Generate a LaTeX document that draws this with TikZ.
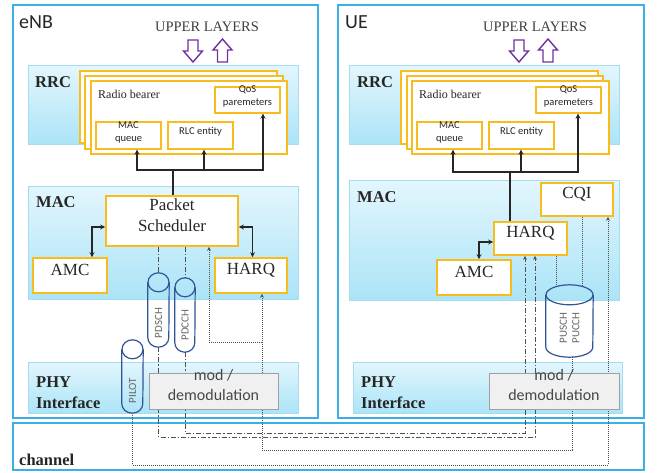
\documentclass[tikz,border=0pt]{standalone}
\usepackage{fontspec}
\setmainfont{Liberation Serif}
\newfontfamily\carl{Carlito}
\usetikzlibrary{arrows.meta,calc,fit}
\pgfdeclarelayer{back}
\pgfdeclarelayer{lines}
\pgfsetlayers{back,lines,main}
\definecolor{frameblue}{HTML}{3BB0E6}
\definecolor{bandtop}{HTML}{E3F6FD}
\definecolor{bandbot}{HTML}{ABE4F7}
\definecolor{bandline}{HTML}{A5DCEF}
\definecolor{gold}{HTML}{F8BC1C}
\definecolor{upurple}{HTML}{7030A0}
\definecolor{cylblue}{HTML}{2F5597}
\definecolor{txt}{HTML}{262626}
\definecolor{lin}{HTML}{505050}
\definecolor{modfill}{HTML}{F0F0F0}
\definecolor{modline}{HTML}{A0A0A0}
\tikzset{
  frame/.style={draw=frameblue, line width=1.8pt, fill=white, inner sep=0pt},
  band/.style={draw=bandline, line width=0.6pt, top color=bandtop, bottom color=bandbot, inner sep=0pt},
  obox/.style={draw=gold, line width=1.6pt, fill=white, inner sep=0pt, text=txt, align=center, font=\fontsize{17}{21}\selectfont},
  sbox/.style={draw=gold, line width=1.4pt, fill=white, inner sep=0pt, text=txt, align=center, font=\carl\fontsize{10.5}{13}\selectfont},
  rbox/.style={draw=gold, line width=1.3pt, fill=white, inner sep=0pt},
  modbox/.style={draw=modline, line width=1pt, fill=modfill, inner sep=0pt, text=txt!85, align=center, font=\carl\fontsize{16}{20}\selectfont},
  cylbox/.style={inner sep=0pt},
  cylline/.style={draw=cylblue, line width=1.2pt},
  cyltxt/.style={rotate=90, inner sep=0pt, text=black!60, align=center, font=\carl\fontsize{11}{12.5}\selectfont},
  ttl/.style={anchor=west, inner sep=0pt, text=txt, font=\carl\fontsize{20}{22}\selectfont},
  layerlbl/.style={anchor=west, inner sep=0pt, text=txt, font=\bfseries\fontsize{16.5}{18}\selectfont},
  rblbl/.style={anchor=west, inner sep=0pt, text=txt, font=\fontsize{12}{14}\selectfont},
  upl/.style={inner sep=0pt, text=black!75, font=\fontsize{14.5}{16}\selectfont},
  parrow/.style={draw=upurple, line width=1.4pt, line join=miter},
  dotl/.style={draw=lin, line width=0.9pt, dash pattern=on 1pt off 1pt},
  dashdotl/.style={draw=lin, line width=0.9pt, dash pattern=on 5pt off 2pt on 1.2pt off 2pt},
  gtip/.tip={Stealth[length=4pt,width=4pt]},
  blk/.style={draw=black!85, line width=1.5pt},
  btip/.tip={Stealth[length=5pt,width=5pt]},
}
\newcommand\pdown[1]{\draw[parrow] ({#1-5},40) -- ({#1+5},40) -- ({#1+5},51) -- ({#1+9.5},51) -- (#1,62) -- ({#1-9.5},51) -- ({#1-5},51) -- cycle;}
\newcommand\pup[1]{\draw[parrow] ({#1-5},62) -- ({#1+5},62) -- ({#1+5},50) -- ({#1+9.5},50) -- (#1,39) -- ({#1-9.5},50) -- ({#1-5},50) -- cycle;}
\newcommand\cylfig[3]{%
  \draw[cylline] ([yshift=-#3pt]#1.north) ellipse[x radius=#2pt, y radius=#3pt];
  \draw[cylline] ([yshift=-#3pt]#1.north west) -- ([yshift=#3pt]#1.south west)
     arc[start angle=180, end angle=360, x radius=#2pt, y radius=#3pt] -- ([yshift=-#3pt]#1.north east);}
\begin{document}
\begin{tikzpicture}[x=1pt,y=-1pt]
\useasboundingbox (0,0) rectangle (667,472);
% ---------- frames and bands
\begin{pgfonlayer}{back}
\node[frame, fit={(13,5)(318,418)}] (enbF) {};
\node[frame, fit={(338,5)(644,418)}] (ueF) {};
\node[frame, fit={(13,423)(644,470)}] (chanF) {};
\node[band, fit={(28,65)(298,144)}] (rrcE) {};
\node[band, fit={(28,186)(298,299)}] (macE) {};
\node[band, fit={(28,362)(298,413)}] (phyE) {};
\node[band, fit={(349,65)(619,144)}] (rrcU) {};
\node[band, fit={(349,180)(619,300)}] (macU) {};
\node[band, fit={(353,362)(622,413)}] (phyU) {};
\end{pgfonlayer}
% ---------- titles and layer labels
\node[ttl] (enbT) at (19,22) {eNB};
\node[ttl] (ueT) at (345,22) {UE};
\node[upl] (upE) at (207,27) {UPPER LAYERS};
\node[upl] (upU) at (535,27) {UPPER LAYERS};
\pdown{193}\pup{222.5}
\pdown{519}\pup{548}
\node[layerlbl] (rrcEL) at (35,82) {RRC};
\node[layerlbl] (macEL) at (36,202) {MAC};
\node[layerlbl] (phyEL) at (36,382) {PHY};
\node[layerlbl] (ifEL) at (36,403) {Interface};
\node[layerlbl] (rrcUL) at (357,82) {RRC};
\node[layerlbl] (macUL) at (357,197) {MAC};
\node[layerlbl] (phyUL) at (361,382) {PHY};
\node[layerlbl] (ifUL) at (361,403) {Interface};
\node[layerlbl] (chanL) at (19,460) {channel};
% ---------- eNB boxes
\node[rbox, fit={(80,71)(277,143)}] (rbE1) {};
\node[rbox, fit={(85,76)(283,149)}] (rbE2) {};
\node[rbox, fit={(91,81)(287,154)}] (rbE3) {};
\node[rblbl] (rbEt) at (98,94) {Radio bearer};
\node[sbox, fit={(215,87)(280,113)}] (qosE) {QoS\\paremeters};
\node[sbox, fit={(96,122)(161,149)}] (macqE) {MAC\\queue};
\node[sbox, fit={(168,122)(233,149)}] (rlcE) {RLC entity};
\node[obox, fit={(106,196)(238,246)}] (schedE) {Packet\\Scheduler};
\node[obox, fit={(33,258)(107,293)}] (amcE) {AMC};
\node[obox, fit={(215,258)(287,293)}] (harqE) {HARQ};
\node[modbox, fit={(149,373)(278,409)}] (modE) {mod /\\demodulation};
\node[cylbox, fit={(148,273)(169,347)}] (pdsch) {};
\node[cylbox, fit={(175,278)(195,352)}] (pdcch) {};
\node[cylbox, fit={(122,340)(143,413)}] (pilot) {};
\cylfig{pdsch}{10.5}{9.5}
\cylfig{pdcch}{10}{9.5}
\cylfig{pilot}{10.5}{9.5}
\node[cyltxt] (pdschT) at ($(pdsch.center)+(0,13)$) {PDSCH};
\node[cyltxt] (pdcchT) at ($(pdcch.center)+(0,10)$) {PDCCH};
\node[cyltxt] (pilotT) at ($(pilot.center)+(0,14)$) {PILOT};
% ---------- UE boxes
\node[rbox, fit={(401,71)(598,144)}] (rbU1) {};
\node[rbox, fit={(407,76)(603,149)}] (rbU2) {};
\node[rbox, fit={(412,81)(609,154)}] (rbU3) {};
\node[rblbl] (rbUt) at (419,94) {Radio bearer};
\node[sbox, fit={(536,87)(601,113)}] (qosU) {QoS\\paremeters};
\node[sbox, fit={(417,122)(482,149)}] (macqU) {MAC\\queue};
\node[sbox, fit={(489,122)(554,149)}] (rlcU) {RLC entity};
\node[obox, fit={(541,183)(613,216)}] (cqi) {CQI};
\node[obox, fit={(494,222)(567,255)}] (harqU) {HARQ};
\node[obox, fit={(437,260)(511,295)}] (amcU) {AMC};
\node[modbox, fit={(489,373)(619,409)}] (modU) {mod /\\demodulation};
\node[cylbox, fit={(546,285)(593,357)}] (pusch) {};
\cylfig{pusch}{23.5}{10}
\node[cyltxt] (puschT) at ($(pusch.center)+(0,7)$) {PUSCH\\PUCCH};
% ---------- routing levels
\coordinate (lvA) at (0,433);
\coordinate (lvB) at (0,437);
\coordinate (lvC) at (0,450);
\coordinate (lvD) at (0,465);
\coordinate (lvE) at (0,342);
% ---------- dotted / dash-dot connectors (behind boxes)
\begin{pgfonlayer}{lines}
\draw[dotl, -gtip] ([xshift=2.5pt]pusch.south) -- ([xshift=2.5pt]pusch.south |- lvC) -| ([xshift=11pt]harqE.south);
\draw[dotl, -gtip] ([xshift=11pt]harqE.south |- lvE) -| ([xshift=37pt]schedE.south);
\draw[dotl, -gtip] (pilot.south) -- (pilot.south |- lvD) -| ([xshift=31pt]cqi.south);
\draw[dotl] ([xshift=25.5pt]harqU.south) -- ([xshift=-13.5pt,yshift=-2pt]pusch.north);
\draw[dotl] ([xshift=5pt]cqi.south) -- ([xshift=12.5pt,yshift=-2pt]pusch.north);
\draw[dashdotl] ([xshift=-13.5pt]schedE.south) -- (pdsch.north);
\draw[dashdotl] ([xshift=13pt]schedE.south) -- (pdcch.north);
\draw[dashdotl, -gtip] (pdsch.south) -- (pdsch.south |- lvB) -| ([xshift=4.5pt]harqU.south);
\draw[dashdotl, -gtip] (pdcch.south) -- (pdcch.south |- lvA) -| ([xshift=-5.5pt]harqU.south);
\end{pgfonlayer}
% ---------- black arrows
\coordinate (jE) at ($(schedE.north)+(1,-25)$);
\draw[blk] (schedE.north -| jE) -- (jE);
\draw[blk, -btip] (jE) -| ([xshift=8.5pt]macqE.south);
\draw[blk, -btip] (jE) -| ([xshift=3.5pt]rlcE.south);
\draw[blk, -btip] (jE) -| ([xshift=15.5pt]qosE.south);
\coordinate (jU) at ($(harqU.north)+(-20.5,-49)$);
\draw[blk] (harqU.north -| jU) -- (jU);
\draw[blk, -btip] (jU) -| ([xshift=3.5pt]macqU.south);
\draw[blk, -btip] (jU) -| ([xshift=-0.5pt]rlcU.south);
\draw[blk, -btip] (jU) -| ([xshift=9.5pt]qosU.south);
\draw[blk, btip-btip] ($(schedE.west)+(0,6)$) -| ([xshift=22pt]amcE.north);
\draw[blk, btip-btip] ($(schedE.east)+(0,6)$) -| ([xshift=1.5pt]harqE.north);
\draw[blk, btip-btip] ($(harqU.west)+(0,3.5)$) -| ([xshift=5pt]amcU.north);
\end{tikzpicture}
\end{document}
